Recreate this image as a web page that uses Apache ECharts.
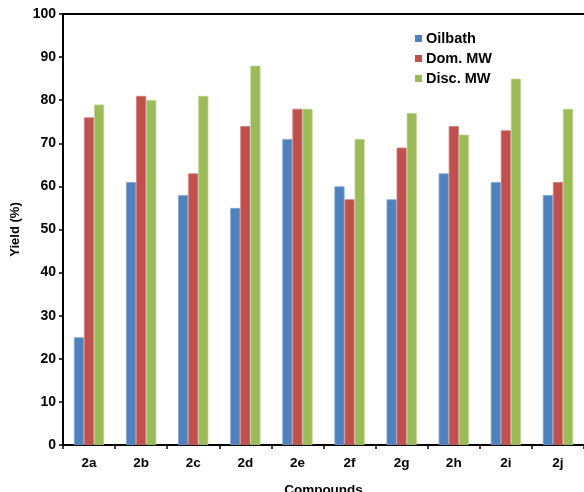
<!DOCTYPE html>
<html><head><meta charset="utf-8">
<script src="https://cdn.jsdelivr.net/npm/echarts@6/dist/echarts.min.js"></script>
<style>html,body{margin:0;padding:0;background:#fff}#c{width:584px;height:492px}</style>
</head><body><div id="c"></div>
<script>
const categories = ['2a','2b','2c','2d','2e','2f','2g','2h','2i','2j'];
const oilbath = [25,61,58,55,71,60,57,63,61,58];
const domMW = [76,81,63,74,78,57,69,74,73,61];
const discMW = [79,80,81,88,78,71,77,72,85,78];
const seriesNames = ['Oilbath','Dom. MW','Disc. MW'];
const colors = ['#4F81BD','#C0504D','#9BBB59'];
const borders = ['#7FA3D3','#D27A78','#B9D18A'];

const font = {fontFamily:'Liberation Sans, Arial, sans-serif', fontWeight:'bold', color:'#000'};
const chart = echarts.init(document.getElementById('c'), null, {renderer:'canvas'});
const data = [oilbath, domMW, discMW];
chart.setOption({
  animation:false,
  grid:{left:63, right:0, top:14, bottom:47, containLabel:false, outerBoundsMode:'none'},
  legend:{
    orient:'vertical', left:410, top:26, itemWidth:7, itemHeight:7, itemGap:5,
    icon:'rect',
    itemStyle:{borderWidth:0},
    textStyle:Object.assign({fontSize:14.5, padding:[0,0,0,-1]}, font),
    data:seriesNames
  },
  xAxis:{
    type:'category', data:categories,
    name:'Compounds', nameLocation:'middle', nameGap:38,
    nameTextStyle:Object.assign({fontSize:13.5}, font),
    axisLine:{lineStyle:{color:'#000', width:2}},
    axisTick:{show:true, length:4, lineStyle:{color:'#000', width:1.5}},
    axisLabel:Object.assign({fontSize:13.5, margin:11}, font)
  },
  yAxis:[{
    type:'value', min:0, max:100, interval:10,
    name:'Yield (%)', nameLocation:'middle', nameGap:37,
    nameTextStyle:Object.assign({fontSize:13}, font),
    axisLine:{show:true, lineStyle:{color:'#000', width:2}},
    axisTick:{show:true, length:4, lineStyle:{color:'#000', width:1.5}},
    axisLabel:Object.assign({fontSize:14, margin:7}, font),
    splitLine:{show:false}
  }],
  series: seriesNames.map((n,i)=>({
    name:n, type:'bar', data:data[i], barGap:'0%', barCategoryGap:'42%',
    itemStyle:{color:colors[i], borderColor:borders[i], borderWidth:0.8}
  })).concat([{
    type:'line', data:[], markLine:{silent:true, symbol:'none', label:{show:false},
      lineStyle:{color:'#000', width:2, type:'solid'},
      data:[{yAxis:100}]}
  }])
});
</script></body></html>
